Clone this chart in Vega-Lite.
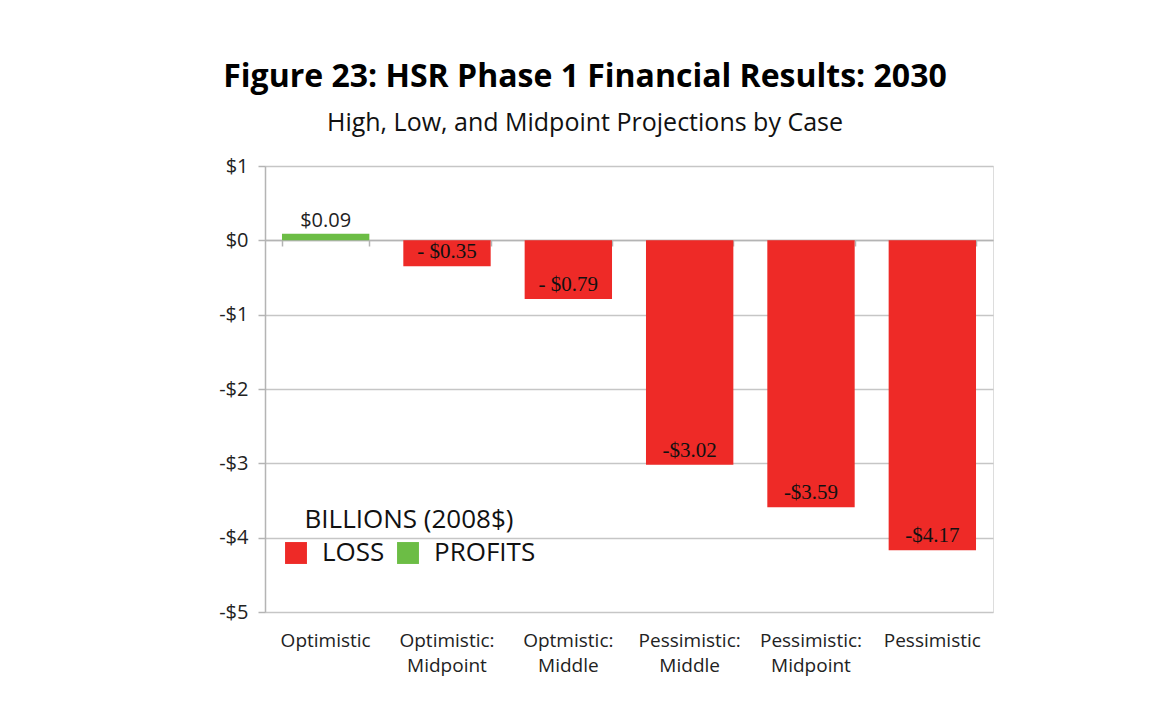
{
  "$schema": "https://vega.github.io/schema/vega-lite/v6.json",
  "width": 728,
  "height": 446,
  "autosize": {"type": "none"},
  "padding": {"left": 265, "top": 166, "right": 176, "bottom": 94},
  "background": "white",
  "title": {
    "text": "Figure 23: HSR Phase 1 Financial Results: 2030",
    "subtitle": "High, Low, and Midpoint Projections by Case",
    "anchor": "middle",
    "frame": "group",
    "dx": -44,
    "offset": 19,
    "font": "Open Sans",
    "fontSize": 32,
    "fontWeight": "bold",
    "color": "#000000",
    "subtitleFont": "Open Sans",
    "subtitleFontSize": 25,
    "subtitleColor": "#111111",
    "subtitlePadding": 17
  },
  "data": {
    "values": [
      {"case": "Optimistic", "value": 0.09, "type": "PROFITS", "label": "$0.09"},
      {"case": "Optimistic: Midpoint", "value": -0.35, "type": "LOSS", "label": "- $0.35"},
      {"case": "Optmistic: Middle", "value": -0.79, "type": "LOSS", "label": "- $0.79"},
      {"case": "Pessimistic: Middle", "value": -3.02, "type": "LOSS", "label": "-$3.02"},
      {"case": "Pessimistic: Midpoint", "value": -3.59, "type": "LOSS", "label": "-$3.59"},
      {"case": "Pessimistic", "value": -4.17, "type": "LOSS", "label": "-$4.17"}
    ]
  },
  "layer": [
    {
      "mark": {"type": "bar"},
      "encoding": {
        "x": {
          "field": "case", "type": "nominal", "sort": null, "title": null,
          "scale": {"paddingInner": 0.28, "paddingOuter": 0.14},
          "axis": {
            "orient": "bottom", "domain": false, "ticks": false, "labelAngle": 0,
            "labelFont": "Open Sans", "labelFontSize": 19, "labelColor": "#222222",
            "labelPadding": 19, "labelLineHeight": 25,
            "labelExpr": "split(replace(datum.label, ': ', ':|'), '|')"
          }
        },
        "y": {
          "field": "value", "type": "quantitative", "title": null,
          "scale": {"domain": [-5, 1], "nice": false},
          "axis": {
            "values": [-5, -4, -3, -2, -1, 0, 1],
            "labelExpr": "datum.value < 0 ? '-$' + abs(datum.value) : '$' + datum.value",
            "grid": true, "gridColor": "#c6c6c6", "gridWidth": 1.5,
            "domainColor": "#b4b4b4", "domainWidth": 1.5,
            "tickColor": "#b4b4b4", "tickSize": 7, "tickWidth": 1.5,
            "labelFont": "Open Sans", "labelFontSize": 20, "labelColor": "#222222", "labelPadding": 10
          }
        },
        "color": {
          "field": "type", "type": "nominal",
          "scale": {"domain": ["LOSS", "PROFITS"], "range": ["#EE2A27", "#6CBD45"]},
          "legend": {
            "orient": "none", "legendX": 18, "legendY": 341, "direction": "horizontal",
            "title": "BILLIONS (2008$)", "titleFont": "Open Sans", "titleFontSize": 26,
            "titleFontWeight": "normal", "titleColor": "#111111", "titleAnchor": "middle", "titlePadding": 7,
            "titleLimit": 600, "labelLimit": 400,
            "labelFont": "Open Sans", "labelFontSize": 26, "labelColor": "#111111",
            "symbolType": "square", "symbolSize": 480, "symbolStrokeWidth": 0, "symbolOpacity": 1,
            "labelOffset": 13, "columnPadding": 10
          }
        }
      }
    },
    {
      "transform": [{"filter": "datum.value > 0"}],
      "mark": {"type": "text", "font": "Open Sans", "fontSize": 20, "baseline": "middle", "dy": -13, "color": "#222222"},
      "encoding": {
        "x": {
          "field": "case", "type": "nominal", "sort": null, "title": null,
          "axis": {
            "orient": "bottom", "offset": -372, "labels": false, "grid": false,
            "domain": true, "domainColor": "#b4b4b4", "domainWidth": 1.5,
            "ticks": true, "tickBand": "extent", "tickSize": 6, "tickColor": "#b4b4b4", "tickWidth": 1.5,
            "title": null
          }
        },
        "y": {"field": "value", "type": "quantitative", "title": null},
        "text": {"field": "label"}
      }
    },
    {
      "transform": [{"filter": "datum.value < 0"}],
      "mark": {"type": "text", "font": "Liberation Serif", "fontSize": 21, "baseline": "middle", "dy": -14, "color": "#111111"},
      "encoding": {
        "x": {"field": "case", "type": "nominal", "sort": null, "title": null, "axis": null},
        "y": {"field": "value", "type": "quantitative", "title": null},
        "text": {"field": "label"}
      }
    }
  ],
  "resolve": {"axis": {"x": "independent"}}
}
